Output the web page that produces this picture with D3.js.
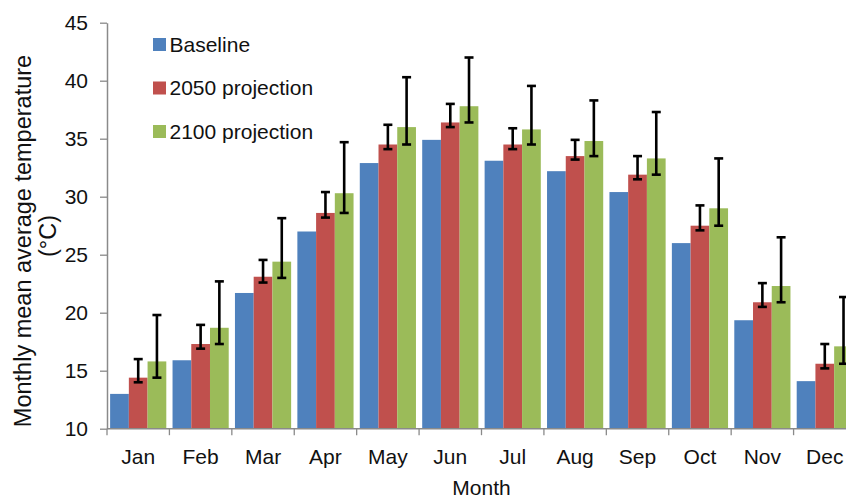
<!DOCTYPE html>
<html>
<head>
<meta charset="utf-8">
<script src="https://cdn.jsdelivr.net/npm/d3@7"></script>
<style>
  html, body { margin: 0; padding: 0; background: #fff; }
  svg { display: block; font-family: "Liberation Sans", Arial, sans-serif; }
</style>
</head>
<body>
<svg id="chart" width="846" height="499"></svg>
<script>
// Monthly mean average temperature (°C): baseline and two projections
const months = ["Jan", "Feb", "Mar", "Apr", "May", "Jun", "Jul", "Aug", "Sep", "Oct", "Nov", "Dec"];
const seriesNames = ["Baseline", "2050 projection", "2100 projection"];
const seriesColors = ["#4F81BD", "#C0504D", "#9BBB59"];

const baseline = [13.0, 15.9, 21.7, 27.0, 32.9, 34.9, 33.1, 32.2, 30.4, 26.0, 19.35, 14.1];
const proj2050 = [14.4, 17.3, 23.1, 28.6, 34.5, 36.4, 34.5, 33.5, 31.9, 27.5, 20.9, 15.6];
const proj2100 = [15.8, 18.7, 24.4, 30.3, 36.0, 37.8, 35.8, 34.8, 33.3, 29.0, 22.3, 17.1];

// Error ranges (low / high) for the projections
const low2050  = [14.0, 16.9, 22.6, 28.2, 34.1, 36.0, 34.1, 33.2, 31.5, 27.1, 20.5, 15.2];
const high2050 = [16.0, 18.95, 24.55, 30.4, 36.2, 38.0, 35.9, 34.9, 33.5, 29.25, 22.55, 17.3];
const low2100  = [14.4, 17.3, 23.0, 28.6, 34.5, 36.4, 34.5, 33.5, 31.9, 27.5, 20.9, 15.6];
const high2100 = [19.8, 22.7, 28.15, 34.7, 40.3, 42.0, 39.55, 38.3, 37.3, 33.3, 26.5, 21.35];

const yTicks = [10, 15, 20, 25, 30, 35, 40, 45];

const values = [baseline, proj2050, proj2100];
const errors = [null, { low: low2050, high: high2050 }, { low: low2100, high: high2100 }];

const svg = d3.select("#chart");

const x0 = d3.scaleBand()
  .domain(months)
  .range([107, 856])
  .paddingInner(0.1)
  .paddingOuter(0.05);

const x1 = d3.scaleBand()
  .domain(d3.range(seriesNames.length))
  .range([0, x0.bandwidth()])
  .padding(0);

const y = d3.scaleLinear().domain([10, 45]).range([428.7, 22.7]);

const axisColor = "#8a8a8a";

// Bars
const groups = svg.append("g").selectAll("g")
  .data(months)
  .join("g")
  .attr("transform", d => `translate(${x0(d)},0)`);

groups.selectAll("rect")
  .data((m, i) => values.map((vals, s) => ({ s, v: vals[i] })))
  .join("rect")
  .attr("x", d => x1(d.s))
  .attr("width", x1.bandwidth())
  .attr("y", d => y(d.v))
  .attr("height", d => y(10) - y(d.v))
  .attr("fill", d => seriesColors[d.s]);

// Error bars
const errData = [];
months.forEach((m, i) => {
  errors.forEach((e, s) => {
    if (e) errData.push({ m, s, lo: e.low[i], hi: e.high[i] });
  });
});
const capW = 4.5;
const eb = svg.append("g")
  .attr("stroke", "#000")
  .attr("stroke-width", 2.6)
  .selectAll("g")
  .data(errData)
  .join("g")
  .attr("transform", d => `translate(${x0(d.m) + x1(d.s) + x1.bandwidth() / 2},0)`);
eb.append("line").attr("y1", d => y(d.lo)).attr("y2", d => y(d.hi));
eb.append("line").attr("x1", -capW).attr("x2", capW).attr("y1", d => y(d.hi)).attr("y2", d => y(d.hi));
eb.append("line").attr("x1", -capW).attr("x2", capW).attr("y1", d => y(d.lo)).attr("y2", d => y(d.lo));

// Y axis
const yAxis = svg.append("g")
  .attr("transform", "translate(107,0)")
  .call(d3.axisLeft(y).tickValues(yTicks).tickSize(7).tickPadding(12).tickSizeOuter(0));
yAxis.select(".domain").attr("stroke", axisColor).attr("stroke-width", 1.5);
yAxis.selectAll(".tick line").attr("stroke", axisColor).attr("stroke-width", 1.3);
yAxis.selectAll(".tick text")
  .attr("font-size", 21)
  .attr("fill", "#111")
  .attr("font-family", "Liberation Sans, Arial, sans-serif");

// X axis: baseline line, boundary ticks, month labels
const xg = svg.append("g");
xg.append("line")
  .attr("x1", 107).attr("x2", 856)
  .attr("y1", y(10)).attr("y2", y(10))
  .attr("stroke", axisColor).attr("stroke-width", 1.5);
const boundaries = months.map(m => x0(m) - x0.step() * x0.paddingOuter());
boundaries.push(x0.range()[1]);
xg.selectAll(".xt")
  .data(boundaries)
  .join("line")
  .attr("class", "xt")
  .attr("x1", d => d).attr("x2", d => d)
  .attr("y1", y(10)).attr("y2", y(10) + 6.5)
  .attr("stroke", axisColor).attr("stroke-width", 1.3);
xg.selectAll(".xl")
  .data(months)
  .join("text")
  .attr("class", "xl")
  .attr("x", d => x0(d) + x0.bandwidth() / 2)
  .attr("y", 464)
  .attr("text-anchor", "middle")
  .attr("font-size", 21)
  .attr("fill", "#111")
  .text(d => d);

// Axis titles
svg.append("text")
  .attr("x", (107 + 856) / 2)
  .attr("y", 495)
  .attr("text-anchor", "middle")
  .attr("font-size", 21)
  .attr("fill", "#111")
  .text("Month");

svg.append("text")
  .attr("transform", "translate(31,241) rotate(-90)")
  .attr("text-anchor", "middle")
  .attr("font-size", 23.5)
  .attr("fill", "#111")
  .text("Monthly mean average temperature");
svg.append("text")
  .attr("transform", "translate(56,236) rotate(-90)")
  .attr("text-anchor", "middle")
  .attr("font-size", 23.5)
  .attr("fill", "#111")
  .text("(°C)");

// Legend
const legend = svg.append("g").selectAll("g")
  .data(seriesNames)
  .join("g")
  .attr("transform", (d, i) => `translate(153,${38 + i * 43.5})`);
legend.append("rect")
  .attr("width", 13).attr("height", 13)
  .attr("fill", (d, i) => seriesColors[i]);
legend.append("text")
  .attr("x", 16.5)
  .attr("y", 13.5)
  .attr("font-size", 21)
  .attr("fill", "#111")
  .text(d => d);
</script>
</body>
</html>
